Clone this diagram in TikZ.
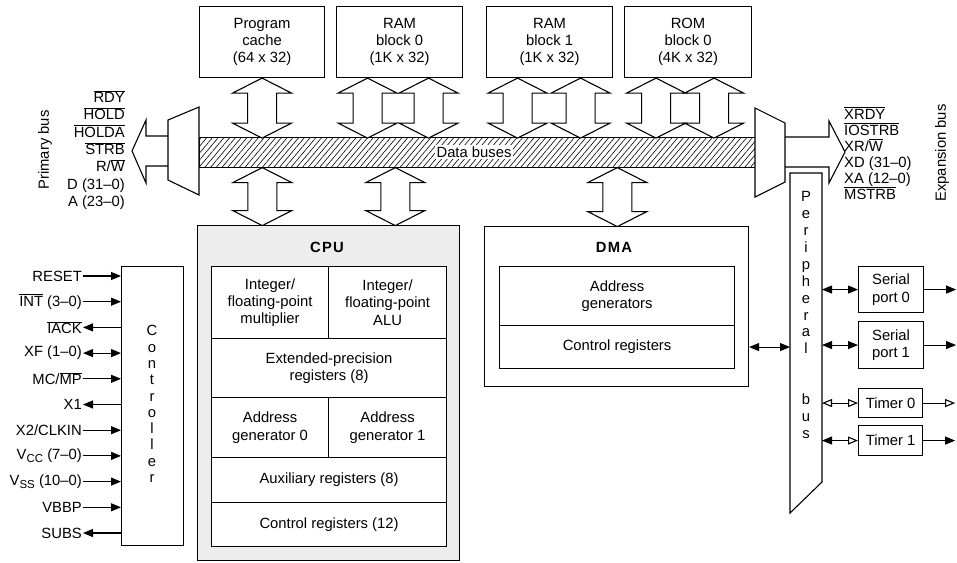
\documentclass[tikz,border=0pt]{standalone}
\usepackage{fontspec}
\setmainfont{Liberation Sans}
\usetikzlibrary{arrows.meta,patterns.meta}
\newcommand\ovl[1]{\ensuremath{\overline{\mbox{#1}}}}
\newcommand\lowsub[1]{\raisebox{-3.5pt}{\fontsize{11.5}{12}\selectfont #1}}
\tikzset{
  blk/.style={draw, line width=1.1pt, inner sep=0pt, align=center, anchor=north west, fill=white},
  fat/.style={draw, line width=1.1pt, fill=white, line join=miter},
  tipf/.tip={Triangle[length=10pt,width=8pt]},
  tipo/.tip={Triangle[open,length=10pt,width=8pt,fill=white]},
  sigin/.style={line width=1.1pt, -tipf},
  sigout/.style={line width=1.1pt, tipf-},
  sigboth/.style={line width=1.1pt, tipf-tipf},
  opboth/.style={line width=1.1pt, tipo-tipo},
  opout/.style={line width=1.1pt, -tipo},
  mixboth/.style={line width=1.1pt, tipf-tipo},
  lbl/.style={inner sep=1pt, anchor=east},
  pics/dblarrow/.style={code={
    \draw[fat] (0,0) -- (29.5,15) -- (14.5,15) -- (14.5,{#1-15}) -- (29.5,{#1-15})
      -- (0,#1) -- (-29.5,{#1-15}) -- (-14.5,{#1-15}) -- (-14.5,15) -- (-29.5,15) -- cycle;
  }}
}
\begin{document}
\begin{tikzpicture}[x=1pt, y=-1pt, font=\fontsize{14.8}{17.3}\selectfont]
\useasboundingbox (0,0) rectangle (957,562);
\fill[white] (0,0) rectangle (957,562);

% memory blocks on the top row
\node[blk, minimum width=125, minimum height=71] (pc)   at (199,6) {Program\\cache\\(64 x 32)};
\node[blk, minimum width=126, minimum height=71] (ram0) at (336,6) {RAM\\block 0\\(1K x 32)};
\node[blk, minimum width=126, minimum height=71] (ram1) at (486,6) {RAM\\block 1\\(1K x 32)};
\node[blk, minimum width=127, minimum height=71] (rom)  at (624,6) {ROM\\block 0\\(4K x 32)};

% hatched data bus
\node[draw, line width=1.1pt, anchor=north west, minimum width=556, minimum height=30, inner sep=0pt,
      pattern={Lines[angle=50,distance=4.4pt,line width=0.6pt]}] (bus) at (199,137) {};
\node[fill=white, inner sep=2pt] (buslbl) at (474,152) {Data buses};

% multiplexers and bus arrows at both ends
\draw[fat] (168,136) -- (146,136) -- (146,120) -- (132,151) -- (146,183) -- (146,166) -- (168,166);
\draw[fat] (168,120) -- (199,107) -- (199,195) -- (168,180) -- cycle;
\draw[fat] (785,137) -- (829,137) -- (829,121) -- (845,152) -- (829,183) -- (829,167) -- (785,167);
\draw[fat] (755,108) -- (785,123) -- (785,182) -- (755,197) -- cycle;

% block arrows between memories and data bus
\pic at (pc.south) {dblarrow=60};
\pic at ([xshift=-32pt]ram0.south) {dblarrow=60};
\pic at ([xshift=29pt]ram0.south) {dblarrow=60};
\pic at ([xshift=-32pt]ram1.south) {dblarrow=60};
\pic at ([xshift=31pt]ram1.south) {dblarrow=60};
\pic at ([xshift=-32pt]rom.south) {dblarrow=60};
\pic at ([xshift=26pt]rom.south) {dblarrow=60};

% bus labels
\node[anchor=east, align=right, inner sep=0pt] (pbus) at (125,150)
  {\ovl{RDY}\\\ovl{HOLD}\\\ovl{HOLDA}\\\ovl{STRB}\\R/\ovl{W}\\D (31--0)\\A (23--0)};
\node[rotate=90] (pname) at (45,150) {Primary bus};
\node[anchor=west, align=left, inner sep=0pt, font=\fontsize{14.8}{16}\selectfont] (xbus) at (844,153)
  {\ovl{XRDY}\\\ovl{IOSTRB}\\XR/\ovl{W}\\XD (31--0)\\XA (12--0)\\\ovl{MSTRB}};
\node[rotate=90] (xname) at (942,153) {Expansion bus};

% CPU
\node[blk, fill=black!7, minimum width=262, minimum height=335] (cpu) at (197,225) {};
\node (cputitle) at (327,247) {\bfseries C\kern1.2pt P\kern1.2pt U};
\node[blk, minimum width=117, minimum height=72] (mul) at (211,266) {Integer/\\floating-point\\multiplier};
\node[blk, minimum width=118, minimum height=72] (alu) at (328,266) {Integer/\\floating-point\\ALU};
\node[blk, minimum width=235, minimum height=59] (ext) at (211,338) {Extended-precision\\registers (8)};
\node[blk, minimum width=117, minimum height=60] (ag0) at (211,397) {Address\\generator 0};
\node[blk, minimum width=118, minimum height=60] (ag1) at (328,397) {Address\\generator 1};
\node[blk, minimum width=235, minimum height=45] (aux) at (211,457) {Auxiliary registers (8)};
\node[blk, minimum width=235, minimum height=44] (ctl) at (211,502) {Control registers (12)};

% DMA
\node[blk, minimum width=264, minimum height=160] (dma) at (484,226) {};
\node (dmatitle) at (614,247) {\bfseries D\kern1.2pt M\kern1.2pt A};
\node[blk, minimum width=235, minimum height=59] (dag) at (499,266) {Address\\generators};
\node[blk, minimum width=235, minimum height=43] (dcr) at (499,325) {Control registers};

% block arrows between data bus and CPU / DMA
\pic at ([xshift=-215pt]bus.south) {dblarrow=58};
\pic at ([xshift=-82pt]bus.south) {dblarrow=58};
\pic at ([xshift=140pt]bus.south) {dblarrow=59};

% peripheral bus
\draw[fat] (790,173) -- (822,173) -- (822,482) -- (790,513) -- cycle;
\coordinate (pbL) at (790,300);
\coordinate (pbR) at (822,300);
\node[align=center, inner sep=0pt, font=\fontsize{14.8}{16.9}\selectfont] (pbtxt) at (806,315)
  {P\\e\\r\\i\\p\\h\\e\\r\\a\\l\\[33.8pt]b\\u\\s};

% peripherals
\node[blk, minimum width=65, minimum height=46] (sp0) at (858,266) {Serial\\port 0};
\node[blk, minimum width=65, minimum height=47] (sp1) at (858,321) {Serial\\port 1};
\node[blk, minimum width=64, minimum height=29] (t0)  at (858,388) {Timer 0};
\node[blk, minimum width=64, minimum height=30] (t1)  at (858,425) {Timer 1};

\draw[sigboth] (dma.east |- dcr.east) -- (pbL |- dcr.east);
\draw[sigboth] (pbR |- sp0.west) -- (sp0.west);
\draw[sigboth] (pbR |- sp1.west) -- (sp1.west);
\draw[opboth]  (pbR |- t0.west) -- (t0.west);
\draw[mixboth] (pbR |- t1.west) -- (t1.west);
\draw[sigin] (sp0.east) -- ++(32,0);
\draw[sigin] (sp1.east) -- ++(32,0);
\draw[opout] (t0.east) -- ++(32,0);
\draw[sigin] (t1.east) -- ++(32,0);

% controller and its pins
\node[blk, minimum width=62, minimum height=279] (ctrl) at (121,266) {};
\node[align=center, inner sep=0pt, font=\fontsize{14.8}{16.3}\selectfont] (ctrltxt) at (152,404)
  {C\\o\\n\\t\\r\\o\\l\\l\\e\\r};
\foreach \lab/\dir [count=\i from 0] in {
    RESET/in, {\ovl{INT} (3--0)}/in, {\ovl{IACK}}/out, {XF (1--0)}/both,
    {MC/\ovl{MP}}/in, X1/out, {X2/CLKIN}/in, {V\lowsub{CC} (7--0)}/in,
    {V\lowsub{SS} (10--0)}/in, VBBP/in, SUBS/out} {
  \node[lbl] (s\i) at (83,{276+25.7*\i}) {\lab};
  \draw[sig\dir] (s\i.east) -- (ctrl.west |- s\i.east);
}
\end{tikzpicture}
\end{document}
